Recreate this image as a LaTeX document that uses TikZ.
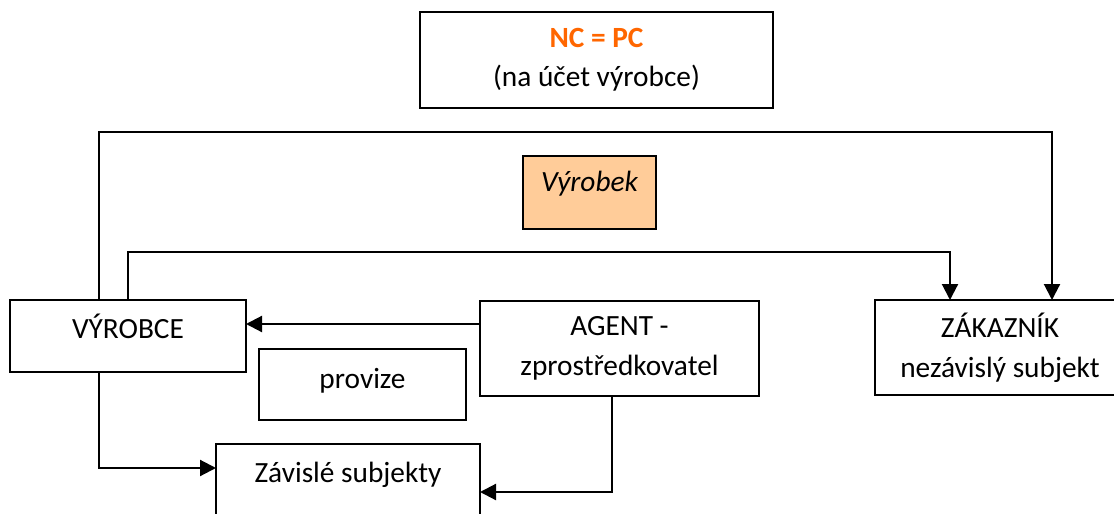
\documentclass[tikz,border=0pt]{standalone}
\usepackage{fontspec}
\setmainfont{Carlito}
\usetikzlibrary{arrows.meta}
\definecolor{ncorange}{HTML}{FF6600}
\definecolor{prodfill}{HTML}{FFCC99}
\begin{document}
\begin{tikzpicture}[x=0.75pt, y=-0.75pt,
  box/.style={draw, rectangle, line width=1.6pt, inner sep=0pt, outer sep=0pt, align=center},
  oneline/.style={text height=0.644em, text depth=#1},
  oneline/.default=0pt,
  arr/.style={line width=1.6pt, -{Triangle[length=12pt, width=12pt]}},
  font=\fontsize{22}{30}\selectfont]
\useasboundingbox (0,0) rectangle (1114,514);
\node[box, minimum width=264.75pt, minimum height=72pt] (nc) at (596.5,60){{\bfseries\color{ncorange}NC = PC}\\[-1pt](na účet výrobce)};
\node[box, fill=prodfill, minimum width=99.75pt, minimum height=54.75pt, oneline=8pt] (vyrobek) at (589.5,192.5){\itshape Výrobek};
\node[box, minimum width=177pt, minimum height=54pt, oneline=2pt] (vyrobce) at (128,336){VÝROBCE};
\node[box, minimum width=155.25pt, minimum height=53.25pt, oneline] (provize) at (362.5,384.5){provize};
\node[box, minimum width=209.25pt, minimum height=71.25pt] (agent) at (619.5,348.5){AGENT -\\zprostředkovatel};
\node[box, minimum width=187.5pt, minimum height=71.25pt] (zakaznik) at (1000,347.5){ZÁKAZNÍK\\nezávislý subjekt};
\node[box, minimum width=198pt, minimum height=57pt, oneline=5pt] (zavisle) at (348,482){Závislé subjekty};
\coordinate (outerL) at (99,132);
\coordinate (outerR) at (1052,132);
\coordinate (innerL) at (128,252);
\coordinate (innerR) at (950,252);
\coordinate (agentout) at (0,324);
\coordinate (dep1) at (0,468);
\coordinate (agentdown) at (612,492);
\draw[arr] (vyrobce.north -| outerL) |- (outerR) -- (zakaznik.north -| outerR);
\draw[arr] (vyrobce.north -| innerL) |- (innerR) -- (zakaznik.north -| innerR);
\draw[arr] (agent.west |- agentout) -- (vyrobce.east |- agentout);
\draw[arr] (vyrobce.south -| outerL) |- (zavisle.west |- dep1);
\draw[arr] (agent.south -| agentdown) |- (zavisle.east |- agentdown);
\end{tikzpicture}
\end{document}
